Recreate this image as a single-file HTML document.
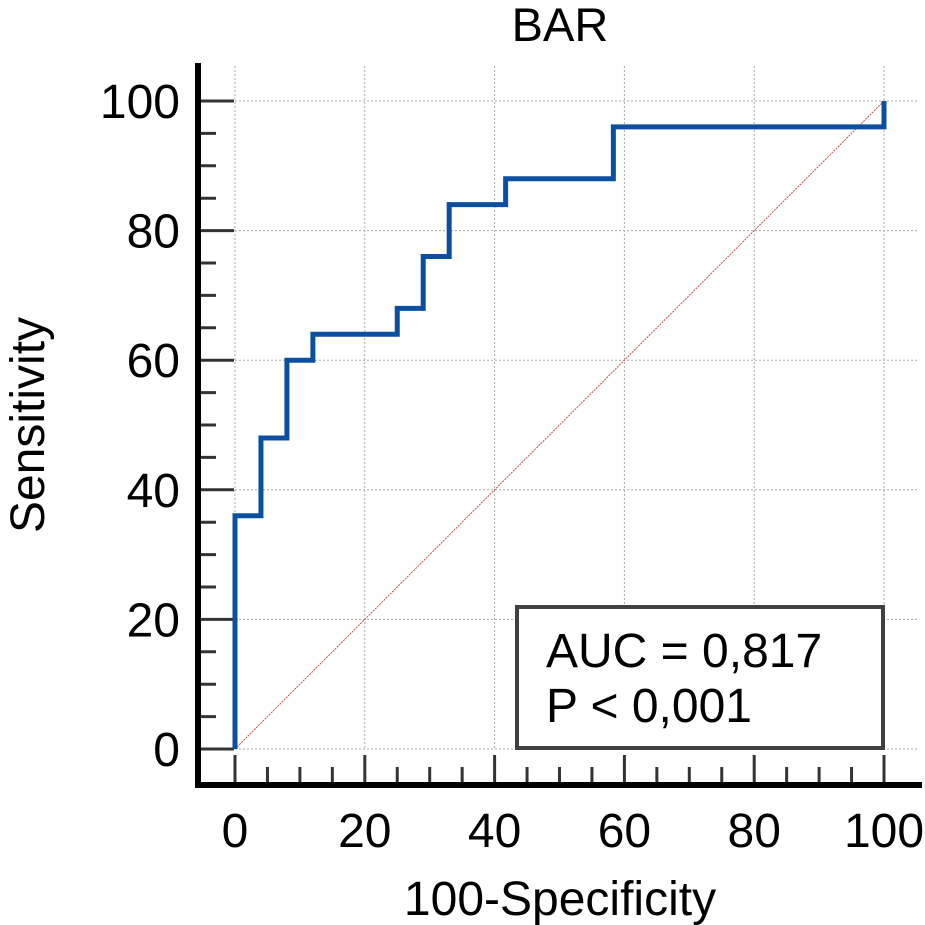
<!DOCTYPE html>
<html><head><meta charset="utf-8"><style>
html,body{margin:0;padding:0;background:#fff;}
svg{display:block;font-family:"Liberation Sans",Arial,sans-serif;}
</style></head><body>
<svg id="chart" width="925" height="925" viewBox="0 0 925 925">
<text x="560" y="41" font-size="47" text-anchor="middle">BAR</text>
<g id="grid"></g>
<line x1="235" y1="749" x2="884" y2="101" stroke="#c0504d" stroke-width="1" stroke-dasharray="2,1"/>
<g id="axes"></g>
<polyline id="roc" fill="none" stroke="#0b4fa0" stroke-width="5" stroke-linejoin="miter"/>
<g>
<rect x="517" y="607" width="366" height="141" fill="#fff" stroke="#404040" stroke-width="4"/>
<text x="546" y="667" font-size="48">AUC = 0,817</text>
<text x="546" y="722" font-size="48">P &lt; 0,001</text>
</g>
<text x="560" y="915" font-size="48" text-anchor="middle">100-Specificity</text>
<text transform="translate(44,425) rotate(-90)" font-size="48" text-anchor="middle">Sensitivity</text>
</svg>
<script>
const fprValues=[0,0,4,4,8,8,12,12,25,25,29,29,33,33,41.7,41.7,58.3,58.3,100,100];
const tprValues=[0,36,36,48,48,60,60,64,64,68,68,76,76,84,84,88,88,96,96,100];
const tickLabels=[0,20,40,60,80,100];
const NS="http://www.w3.org/2000/svg";
const sx=v=>235+v*6.49, sy=v=>749-v*6.48;
function mk(tag,attrs,parent){const e=document.createElementNS(NS,tag);for(const k in attrs)e.setAttribute(k,attrs[k]);parent.appendChild(e);return e;}
const grid=document.getElementById('grid'),axes=document.getElementById('axes');
tickLabels.forEach(t=>{
 const gx=mk('line',{x1:sx(t),x2:sx(t),y1:66,y2:749,stroke:'#aaa','stroke-width':1,'stroke-dasharray':'2,2'},grid);
 
 
 const gy=mk('line',{x1:235,x2:918,y1:sy(t),y2:sy(t),stroke:'#aaa','stroke-width':1,'stroke-dasharray':'2,2'},grid);
 
 
 const lx=mk('text',{x:sx(t),y:847,'font-size':48,'text-anchor':'middle'},axes);lx.textContent=t;
 
 
 const ly=mk('text',{x:180,y:sy(t)+17,'font-size':48,'text-anchor':'end'},axes);ly.textContent=t;
 
 
});
for(let v=0;v<=100;v+=5){
 const major=v%20===0;
 const tx=mk('line',{x1:sx(v),x2:sx(v),y1:major?755:767,y2:783,stroke:'#333','stroke-width':3},axes);
 
 
 const ty=mk('line',{x1:198,x2:major?234:216,y1:sy(v),y2:sy(v),stroke:'#333','stroke-width':3},axes);
 
 
}
const ya=mk('line',{x1:198,x2:198,y1:63,y2:788,stroke:'#000','stroke-width':6},axes);


const xa=mk('line',{x1:195,x2:922,y1:785,y2:785,stroke:'#000','stroke-width':6},axes);


document.getElementById('roc').setAttribute('points',fprValues.map((f,i)=>sx(f)+','+sy(tprValues[i])).join(' '));
</script>
</body></html>
